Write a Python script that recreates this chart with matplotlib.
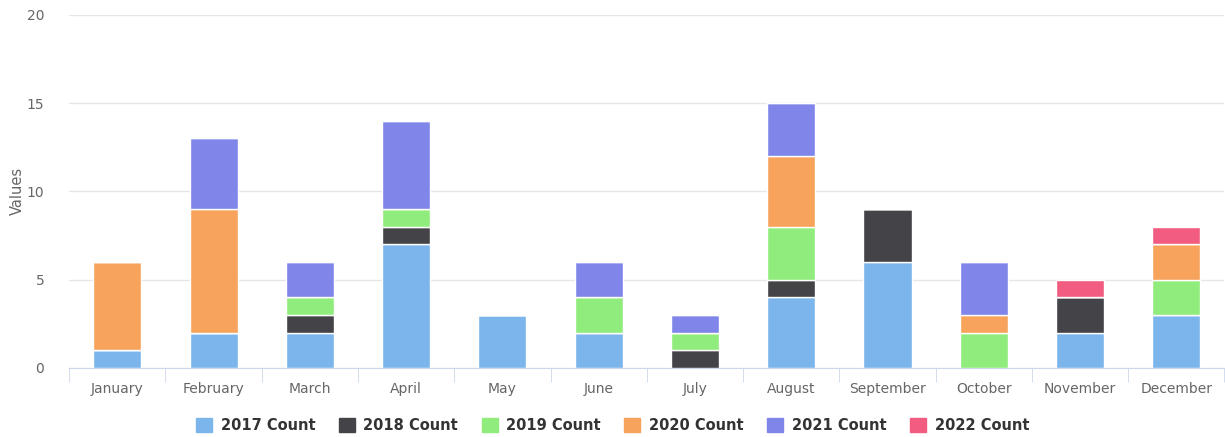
import numpy as np
import matplotlib
matplotlib.use("Agg")
import matplotlib.pyplot as plt
from matplotlib.patches import FancyBboxPatch

months = ["January", "February", "March", "April", "May", "June", "July",
          "August", "September", "October", "November", "December"]
series_names = ["2017 Count", "2018 Count", "2019 Count", "2020 Count",
                "2021 Count", "2022 Count"]
c2017 = [1, 2, 2, 7, 3, 2, 0, 4, 6, 0, 2, 3]
c2018 = [0, 0, 1, 1, 0, 0, 1, 1, 3, 0, 2, 0]
c2019 = [0, 0, 1, 1, 0, 2, 1, 3, 0, 2, 0, 2]
c2020 = [5, 7, 0, 0, 0, 0, 0, 4, 0, 1, 0, 2]
c2021 = [0, 4, 2, 5, 0, 2, 1, 3, 0, 3, 0, 0]
c2022 = [0, 0, 0, 0, 0, 0, 0, 0, 0, 0, 1, 1]
colors = ["#7cb5ec", "#434348", "#90ed7d", "#f7a35c", "#8085e9", "#f15c80"]

fig = plt.figure(figsize=(12.25, 4.37), dpi=100)
ax = fig.add_axes([0.0565, 0.158, 0.943, 0.808])

x = np.arange(len(months))
bottom = np.zeros(len(months))
for vals, col, name in zip([c2017, c2018, c2019, c2020, c2021, c2022], colors, series_names):
    vals = np.array(vals, dtype=float)
    ax.bar(x, vals, width=0.5, bottom=bottom, color=col, edgecolor="white",
           linewidth=1, label=name, zorder=3)
    bottom += vals

ax.set_xlim(-0.5, len(months) - 0.5)
ax.set_ylim(0, 20)
ax.set_yticks([0, 5, 10, 15, 20])
ax.grid(axis="y", color="#e6e6e6", linewidth=1, zorder=0)
for s in ["top", "right", "left"]:
    ax.spines[s].set_visible(False)
ax.spines["bottom"].set_color("#ccd6eb")

ax.set_xticks(x)
ax.set_xticklabels(months)
ax.set_xticks(np.arange(-0.5, len(months)), minor=True)
ax.tick_params(axis="x", which="major", length=0, pad=10, labelsize=10, labelcolor="#666666")
ax.tick_params(axis="x", which="minor", length=10, color="#ccd6eb")
ax.tick_params(axis="y", length=0, pad=18, labelsize=10, labelcolor="#666666")
ax.set_ylabel("Values", color="#666666", fontsize=10.5, labelpad=1)

handles = [FancyBboxPatch((0, 0), 1, 1, color=c) for c in colors]
leg = fig.legend(handles, series_names, loc="center", bbox_to_anchor=(0.5, 0.027),
                 ncol=6, frameon=False, handlelength=1.1, handleheight=1.1,
                 columnspacing=1.6, handletextpad=0.6,
                 prop={"weight": "bold", "size": 10.5})
for t in leg.get_texts():
    t.set_color("#333333")

fig.savefig("out.png", dpi=100)
